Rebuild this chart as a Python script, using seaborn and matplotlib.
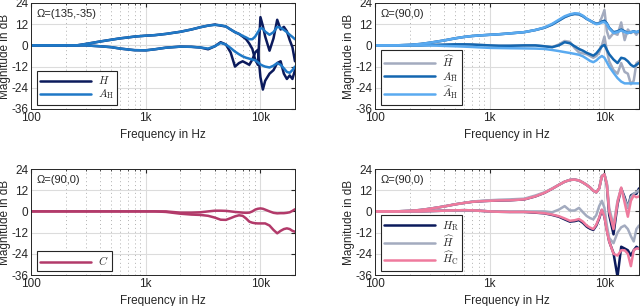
import matplotlib
matplotlib.use("Agg")
import matplotlib.pyplot as plt
import seaborn as sns
from matplotlib.ticker import FixedLocator, NullFormatter

sns.set_style("white")
plt.rcParams['font.family'] = ['Liberation Sans', 'DejaVu Sans']
plt.rcParams['mathtext.fontset'] = 'cm'

# frequency grid in Hz
freq = [100, 150, 200, 250, 300, 400, 500, 600, 700, 800, 1000, 1200, 1500, 2000, 2500,
        3000, 3500, 4000, 4500, 5000, 5500, 6000, 6500, 7000, 7500, 8000, 8500, 9000, 9500,
        10000, 10500, 11000, 12000, 13000, 14000, 15000, 16000, 17000, 18000, 19000, 20000]

# panel 1, Omega=(135,-35)
h1_up = [0, 0, 0, 0, 0.8, 2.2, 3.2, 4, 4.5, 5, 5.5, 5.8, 6.5, 7.7, 9, 10.3, 11.2, 11.8, 11.2,
         10.7, 9, 7.5, 6.5, 5, 3.5, 1, -2, -8, -11, 16, 11, 5, -3, 4, 14.5, 9, 10.5, 8, 3, -1, -9]
a1_up = [0, 0, 0, 0, 0.8, 2.2, 3.2, 4, 4.5, 5, 5.5, 5.8, 6.5, 7.7, 9, 10.3, 11.2, 11.6, 11.4,
         10.7, 9, 7.5, 6.5, 5.4, 4.5, 3.5, 3.5, 5, 7.5, 9.7, 9.5, 7.8, 6, 7.5, 10.5, 10, 8.8, 7.5,
         6, 4.8, 3.5]
h1_lo = [0, 0, 0, 0, 0, -0.5, -1, -1.8, -2.3, -2.7, -2.8, -2.2, -1.3, -0.7, -0.8, -1.2, -2.2,
         -0.5, 1.8, 0.5, -4, -12, -10, -9, -10, -11, -8, -4, -2.5, -18, -25, -20, -16, -14, -10,
         -9, -16, -19, -17, -19, -14]
a1_lo = [0, 0, 0, 0, 0, -0.5, -1, -1.8, -2.3, -2.7, -2.8, -2.2, -1.3, -0.7, -0.8, -1.2, -1.8,
         -0.5, 1.4, 0.5, -1.5, -3.5, -5, -6.2, -7, -7.5, -8, -8.4, -9.5, -10.8, -11.5, -12, -12.5,
         -11.5, -10, -11, -13, -15, -15.5, -14, -12]

# panel 2, Omega=(90,0)
hh2_up = [0, 0, 0.3, 0.8, 1.5, 2.8, 4, 4.8, 5.3, 5.6, 6, 6.3, 6.8, 7.5, 8.7, 10, 11.8, 14, 16,
          17.2, 17.8, 17.6, 16.5, 15, 14, 13, 12.3, 12.5, 16, 20, 8, 4, 7, 6, 13, 3, 9, 7, 8, 6, 8]
ah2_up = [0, 0, 0.3, 0.8, 1.5, 2.8, 4, 4.8, 5.3, 5.6, 6, 6.3, 6.8, 7.5, 8.7, 10, 11.8, 14, 16,
          17.2, 17.8, 17.6, 16.5, 15, 14, 13, 12.3, 12.5, 13.5, 14, 12.5, 10, 7.5, 8, 9, 8, 7,
          7.5, 8, 7.5, 8]
ahat2_up = [0, 0, 0.3, 0.8, 1.5, 2.8, 4, 4.8, 5.3, 5.6, 6, 6.3, 6.8, 7.5, 8.7, 10.2, 12.2, 14.5,
            16.5, 17.6, 18.2, 18, 16.8, 15.2, 14, 12.8, 12, 12.3, 13, 13.2, 12, 9.5, 7, 7.5, 8.5,
            7.5, 7, 7.5, 7.8, 7.5, 8]
hh2_lo = [0, 0, 0, 0, 0.2, 0.4, 0.6, 0.6, 0.5, 0.3, 0, -0.2, -0.2, 0, 0, -0.5, -1, 0.5, 2.5, 2,
          -1.5, -4, -4.5, -5, -6, -7, -6, -4, 0, 5, -3, -9, -14, -16, -10, -15, -16, -22, -20,
          -10, -9]
ah2_lo = [0, 0, 0, 0, 0.2, 0.4, 0.6, 0.6, 0.5, 0.3, 0, -0.2, -0.2, 0, 0, -0.5, -1, 0, 1.8, 1.2,
          -0.5, -2, -3, -4.2, -5, -5.8, -4.5, -2.5, -0.5, 0.3, -2.5, -5, -8, -10, -7, -7.5, -9,
          -11, -12, -11, -10]
ahat2_lo = [0, 0, 0, 0, 0, -0.3, -0.5, -0.7, -0.9, -1.1, -1.4, -1.5, -1.6, -1.7, -1.8, -2, -2.6,
            -3.2, -3.8, -4.3, -4.8, -5.3, -6.2, -7.5, -8.8, -9.5, -8.5, -7, -6, -7, -9.5, -12,
            -15.5, -18.5, -20.5, -21.5, -21.5, -21.5, -21.5, -21.5, -21.5]

# panel 3, Omega=(90,0)
c3_up = [0, 0, 0, 0, 0, 0, 0, 0, 0, 0, 0, 0, 0, -0.7, -0.7, -0.5, 0, 0.4, 0.4, 0.3, 0, -0.3,
         -0.5, -0.7, -0.8, -0.7, 0, 1, 1.5, 1.7, 1.5, 1, 0, -0.8, -1.1, -1, -1, -0.8, -0.5, 0.3, 1.2]
c3_lo = [0, 0, 0, 0, 0, 0, 0, 0, 0, 0, 0, 0, -0.3, -1.3, -1.8, -2, -2.5, -3.5, -4.7, -4.8, -3.8,
         -2.8, -2.2, -2.5, -4, -5.8, -6.4, -6.7, -6.8, -6.8, -6.8, -6.8, -8, -10.5, -12.4, -11,
         -10, -9.6, -10, -11, -11.5]

# panel 4, Omega=(90,0)
hr4_up = [0, 0, 0.3, 0.8, 1.5, 2.8, 4, 4.8, 5.4, 5.7, 6, 6.2, 6.3, 6.8, 8.5, 10.5, 12.8, 15,
          16.8, 17.8, 18, 17.5, 16.3, 15, 13.5, 11.7, 10.8, 13, 20, 21, 15, -2, -13, 4, 13, 8, 2,
          9, 10, 10, 13]
hh4_up = [0, 0, 0.3, 0.8, 1.5, 2.8, 4, 4.8, 5.5, 5.9, 6.3, 6.6, 6.8, 7.2, 9, 10.8, 13, 15,
          16.8, 17.8, 18, 17.5, 16.3, 15, 13.5, 11.7, 10.8, 13, 20, 21, 16, 2, -8, 6, 13, 7, 2,
          8, 10, 11, 12]
hc4_up = [0, 0, 0.3, 0.8, 1.5, 2.8, 4, 4.8, 5.4, 5.7, 6, 6.2, 6.3, 6.8, 8.5, 10.5, 12.8, 15,
          16.8, 17.8, 18, 17.5, 16.3, 15, 13.5, 11.7, 10.8, 13, 20, 21, 15, 0, -10, 5, 13.5, 5,
          -3, 6, 9, 8, 8.5]
hr4_lo = [0, 0, 0, 0, 0.2, 0.4, 0.6, 0.7, 0.6, 0.4, 0, -0.2, -0.3, -0.3, -0.7, -1.1, -2, -3,
          -4.5, -5.8, -5.5, -4.9, -6.5, -8.6, -9.8, -10.5, -8, -4, 0.8, -3, -10.5, -17, -23.7,
          -37, -20, -21, -22, -25, -22, -20, -21]
hh4_lo = [0, 0, 0, 0, 0.2, 0.4, 0.6, 0.7, 0.6, 0.4, 0, -0.2, -0.2, 0, 0, 0, -0.5, 1, 3, 0.5,
          0.5, 2, -0.5, -2.6, -3.8, -4.5, -2, 3, 6, 2, -8, -15, -18, -12, -9, -8, -10, -14, -17,
          -10, -8]
hc4_lo = [0, 0, 0, 0, 0.2, 0.4, 0.6, 0.7, 0.6, 0.4, 0, -0.2, -0.3, -0.3, -0.6, -1, -1.8, -2.7,
          -4, -5.3, -5, -4.3, -5.8, -8, -9.2, -10, -7.5, -3.5, 1, -3, -11, -17, -24, -25, -22,
          -22, -24, -31, -22, -21, -21]

navy = '#0b1a5c'
blue = '#1f78c6'
midblue = '#1466b0'
lightblue = '#5aaaf0'
gray = '#a3abbf'
berry = '#b23a6a'
pink = '#ef7a9d'

panels = [
    ('Ω=(135,-35)', [(h1_up, h1_lo, navy, r'$H$'),
                     (a1_up, a1_lo, blue, r'$A_{\mathrm{H}}$')]),
    ('Ω=(90,0)', [(hh2_up, hh2_lo, gray, r'$\widehat{H}$'),
                  (ah2_up, ah2_lo, midblue, r'$A_{\widehat{\mathrm{H}}}$'),
                  (ahat2_up, ahat2_lo, lightblue, r'$\widehat{A}_{\mathrm{H}}$')]),
    ('Ω=(90,0)', [(c3_up, c3_lo, berry, r'$C$')]),
    ('Ω=(90,0)', [(hr4_up, hr4_lo, navy, r'$H_{\mathrm{R}}$'),
                  (hh4_up, hh4_lo, gray, r'$\widehat{H}$'),
                  (hc4_up, hc4_lo, pink, r'$\widehat{H}_{\mathrm{C}}$')]),
]

fig = plt.figure(figsize=(6.4, 3.06), dpi=100)
positions = [[0.0484, 0.6438, 0.4125, 0.3464], [0.5859, 0.6438, 0.4125, 0.3464],
             [0.0484, 0.1013, 0.4125, 0.3464], [0.5859, 0.1013, 0.4125, 0.3464]]

minor = [f * d for d in (100, 1000) for f in range(2, 10)] + [20000]

for pos, (title, curves) in zip(positions, panels):
    ax = fig.add_axes(pos)
    ax.set_xscale('log')
    for up, lo, col, lab in curves:
        sns.lineplot(x=freq, y=up, ax=ax, color=col, lw=1.8, label=lab,
                     estimator=None, sort=False)
        sns.lineplot(x=freq, y=lo, ax=ax, color=col, lw=1.8, label='_nolegend_',
                     estimator=None, sort=False)
    ax.set_xlim(100, 20000)
    ax.set_ylim(-36, 24)
    ax.xaxis.set_major_locator(FixedLocator([100, 1000, 10000]))
    ax.set_xticklabels(['100', '1k', '10k'])
    ax.xaxis.set_minor_locator(FixedLocator(minor))
    ax.xaxis.set_minor_formatter(NullFormatter())
    ax.set_yticks([-36, -24, -12, 0, 12, 24])
    ax.set_yticklabels(['-36', '-24', '-12', '0', '12', '24'])
    ax.grid(True, which='major', color='#dcdcdc', lw=0.8)
    ax.grid(True, which='minor', axis='x', color='#b0b0b0', lw=0.7, ls=(0, (1, 3)))
    ax.tick_params(which='both', direction='in', top=True, right=True, labelsize=8.5,
                   colors='#262626', pad=2)
    ax.tick_params(which='major', length=3)
    ax.tick_params(which='minor', length=1.5)
    for s in ax.spines.values():
        s.set_color('#262626')
        s.set_linewidth(0.7)
    ax.set_xlabel('Frequency in Hz', fontsize=8.5, color='#262626', labelpad=3.5)
    ax.set_ylabel('Magnitude in dB', fontsize=8.5, color='#262626')
    ax.yaxis.set_label_coords(-0.074, 0.5)
    ax.text(0.022, 0.94, title, transform=ax.transAxes, va='top', ha='left', fontsize=8,
            color='#262626')
    leg = ax.legend(loc='lower left', bbox_to_anchor=(0.022, 0.04), frameon=True,
                    fancybox=False, edgecolor='#262626', framealpha=1, fontsize=8,
                    handlelength=4.6, borderpad=0.3, labelspacing=0.1, handletextpad=0.6,
                    borderaxespad=0)
    leg.get_frame().set_linewidth(0.8)

fig.savefig('out.png', dpi=100)
